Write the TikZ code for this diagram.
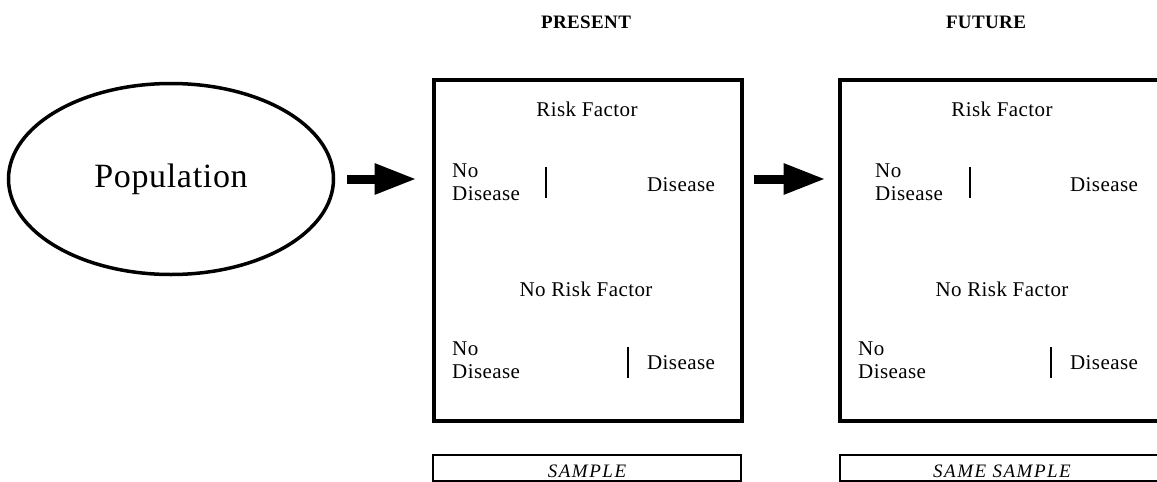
\documentclass[tikz,border=0pt]{standalone}
\usepackage{fontspec}
\setmainfont{Liberation Serif}[LetterSpace=2]
\usetikzlibrary{positioning, arrows.meta, shapes.geometric}

\begin{document}
\begin{tikzpicture}[
  x=1pt, y=-1pt,
  pop/.style={ellipse, draw, line width=3.5pt, minimum width=325pt, minimum height=191pt, font=\fontsize{34}{38}\selectfont},
  frame/.style={draw, line width=4pt, inner sep=0pt},
  samplebox/.style={draw, line width=2pt, inner sep=0pt},
  heading/.style={font=\fontsize{19}{21}\selectfont\bfseries},
  label/.style={font=\fontsize{21}{23}\selectfont},
  twoline/.style={label, align=left, anchor=west, inner sep=0pt},
  tag/.style={font=\fontsize{19}{21}\selectfont\itshape\addfontfeatures{LetterSpace=8}},
  divider/.style={line width=2.2pt},
  bigarrow/.style={-{Triangle[length=42pt, width=29pt]}, line width=9pt}
]
  \useasboundingbox (0,0) rectangle (1157,482);
  \clip (0,0) rectangle (1157,482);

  % Headings
  \node[heading] (hpresent) at (586,22) {PRESENT};
  \node[heading] (hfuture) at (986,22) {FUTURE};

  % Population
  \node[pop] (pop) at (171,179) {Population};

  % Frames
  \node[frame, minimum width=308pt, minimum height=341pt] (present) at (587.5,250) {};
  \node[frame, minimum width=331pt, minimum height=341pt] (future) at (1005,250) {};

  % Present frame
  \node[label] (prf) at (587,109) {Risk Factor};
  \node[twoline] (pnd1) at (452,182) {No\\Disease};
  \node[label] (pd1) at (681,185) {Disease};
  \node[label] (pnrf) at (586,289) {No Risk Factor};
  \node[twoline] (pnd2) at (452,360) {No\\Disease};
  \node[label] (pd2) at (681,363) {Disease};
  \draw[divider] (546,167) -- (546,198);
  \draw[divider] (628,347) -- (628,378);

  % Future frame
  \node[label] (frf) at (1002,109) {Risk Factor};
  \node[twoline] (fnd1) at (875,182) {No\\Disease};
  \node[label] (fd1) at (1104,185) {Disease};
  \node[label] (fnrf) at (1002,289) {No Risk Factor};
  \node[twoline] (fnd2) at (858,360) {No\\Disease};
  \node[label] (fd2) at (1104,363) {Disease};
  \draw[divider] (970,167) -- (970,198);
  \draw[divider] (1051,347) -- (1051,378);

  % Samples
  \node[samplebox, minimum width=308pt, minimum height=26pt] (sample) at (587,468) {};
  \node[tag] at (587,471) {SAMPLE};
  \node[samplebox, minimum width=331pt, minimum height=26pt] (samesample) at (1005,468) {};
  \node[tag] at (1002,471) {SAME SAMPLE};

  % Arrows
  \draw[bigarrow, shorten <=12pt, shorten >=15pt] (pop.east) -- (pop.east -| present.west);
  \draw[bigarrow, shorten <=10pt, shorten >=12pt] (present.east |- pop.east) -- (pop.east -| future.west);
\end{tikzpicture}
\end{document}
